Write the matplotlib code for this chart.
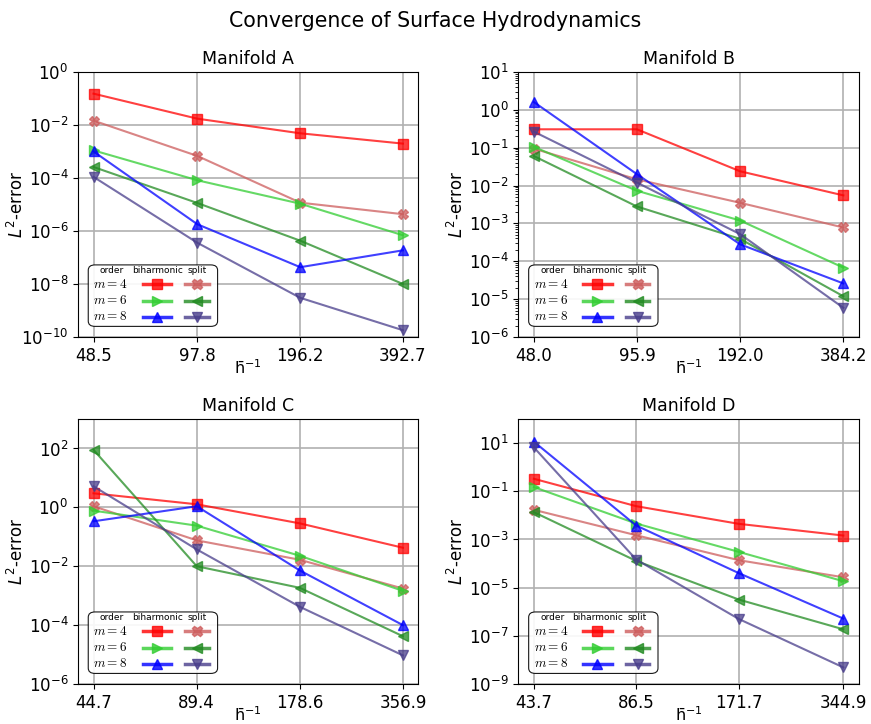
import numpy as np
import matplotlib
matplotlib.use('Agg')
import matplotlib.pyplot as plt
from matplotlib.lines import Line2D
from matplotlib.patches import FancyBboxPatch

# mesh sizes (x) per manifold
h_A = [48.5, 97.8, 196.2, 392.7]
h_B = [48.0, 95.9, 192.0, 384.2]
h_C = [44.7, 89.4, 178.6, 356.9]
h_D = [43.7, 86.5, 171.7, 344.9]

# L2 errors, manifold A
A_bi4 = [0.152, 0.0173, 4.85e-3, 1.98e-3]
A_sp4 = [0.0146, 6.8e-4, 1.17e-5, 4.3e-6]
A_bi6 = [1.1e-3, 8.2e-5, 1.07e-5, 6.9e-7]
A_sp6 = [2.6e-4, 1.14e-5, 4.3e-7, 1.0e-8]
A_bi8 = [1.0e-3, 1.8e-6, 4.3e-8, 1.86e-7]
A_sp8 = [1.1e-4, 3.6e-7, 3.0e-9, 1.8e-10]

# manifold B
B_bi4 = [0.306, 0.306, 0.0238, 5.5e-3]
B_sp4 = [0.094, 0.0146, 3.5e-3, 7.8e-4]
B_bi6 = [0.105, 7.3e-3, 1.19e-3, 6.8e-5]
B_sp6 = [0.060, 2.8e-3, 3.9e-4, 1.19e-5]
B_bi8 = [1.6, 0.020, 2.8e-4, 2.6e-5]
B_sp8 = [0.265, 0.012, 5.2e-4, 5.9e-6]

# manifold C
C_bi4 = [3.0, 1.27, 0.286, 0.0425]
C_sp4 = [1.09, 0.0757, 0.0166, 1.75e-3]
C_bi6 = [0.774, 0.239, 0.0227, 1.46e-3]
C_sp6 = [90.0, 0.01, 1.85e-3, 4.2e-5]
C_bi8 = [0.336, 1.09, 7.2e-3, 1.0e-4]
C_sp8 = [5.2, 0.0373, 4.2e-4, 9.4e-6]

# manifold D
D_bi4 = [0.33, 0.0241, 4.45e-3, 1.46e-3]
D_sp4 = [0.017, 1.5e-3, 1.38e-4, 2.7e-5]
D_bi6 = [0.149, 4.6e-3, 3.05e-4, 1.85e-5]
D_sp6 = [0.0136, 1.29e-4, 3.2e-6, 1.87e-7]
D_bi8 = [11.4, 3.8e-3, 4.0e-5, 5.2e-7]
D_sp8 = [6.6, 1.47e-4, 5.0e-7, 4.9e-9]

titles = ['Manifold A', 'Manifold B', 'Manifold C', 'Manifold D']
ylims = [(1e-10, 1e0), (1e-6, 1e1), (1e-6, 1e3), (1e-9, 1e2)]
yticks = [[1e-10, 1e-8, 1e-6, 1e-4, 1e-2, 1e0],
          [1e-6, 1e-5, 1e-4, 1e-3, 1e-2, 1e-1, 1e0, 1e1],
          [1e-6, 1e-4, 1e-2, 1e0, 1e2],
          [1e-9, 1e-7, 1e-5, 1e-3, 1e-1, 1e1]]

# style per series: (color, marker)
styles = {
    'bi4': ('#ff0000', 's'), 'sp4': ('#cd5c5c', 'X'),
    'bi6': ('#32cd32', '>'), 'sp6': ('#228b22', '<'),
    'bi8': ('#0000ff', '^'), 'sp8': ('#483d8b', 'v'),
}
order = ['bi4', 'sp4', 'bi6', 'sp6', 'bi8', 'sp8']

panels = [
    (h_A, dict(bi4=A_bi4, sp4=A_sp4, bi6=A_bi6, sp6=A_sp6, bi8=A_bi8, sp8=A_sp8)),
    (h_B, dict(bi4=B_bi4, sp4=B_sp4, bi6=B_bi6, sp6=B_sp6, bi8=B_bi8, sp8=B_sp8)),
    (h_C, dict(bi4=C_bi4, sp4=C_sp4, bi6=C_bi6, sp6=C_sp6, bi8=C_bi8, sp8=C_sp8)),
    (h_D, dict(bi4=D_bi4, sp4=D_sp4, bi6=D_bi6, sp6=D_sp6, bi8=D_bi8, sp8=D_sp8)),
]


def table_legend(ax):
    # hand-made legend: order | biharmonic | split
    box = FancyBboxPatch((0.03, 0.04), 0.38, 0.232, boxstyle='round,pad=0,rounding_size=0.02',
                         transform=ax.transAxes, facecolor='white', edgecolor='black',
                         linewidth=0.8, alpha=0.9, zorder=10)
    ax.add_patch(box)
    hy = 0.25
    ax.text(0.099, hy, 'order', transform=ax.transAxes, fontsize=6.5, ha='center', va='center', zorder=11)
    ax.text(0.233, hy, 'biharmonic', transform=ax.transAxes, fontsize=6.5, ha='center', va='center', zorder=11)
    ax.text(0.35, hy, 'split', transform=ax.transAxes, fontsize=6.5, ha='center', va='center', zorder=11)
    rows = [('4', 0.199), ('6', 0.137), ('8', 0.077)]
    for m, y in rows:
        ax.text(0.096, y, '$m = %s$' % m, transform=ax.transAxes, fontsize=9.5, ha='center', va='center',
                math_fontfamily='cm', zorder=11)
        for key, x0, x1 in [('bi' + m, 0.19, 0.274), ('sp' + m, 0.315, 0.385)]:
            c, mk = styles[key]
            ax.add_line(Line2D([x0, x1], [y, y], transform=ax.transAxes, color=c,
                               linewidth=2.5, alpha=0.8, zorder=11))
            # marker sits in the middle of the handle
            ax.add_line(Line2D([(x0 + x1) / 2], [y], transform=ax.transAxes, color=c, marker=mk,
                               linestyle='none', markersize=7.5, alpha=0.8, zorder=12))


fig, axes = plt.subplots(2, 2, figsize=(8.71, 7.24), dpi=100)
fig.subplots_adjust(left=0.0896, right=0.986, top=0.9006, bottom=0.0552, wspace=0.294, hspace=0.3095)

for ax, (h, errs), title, yl, yt in zip(axes.flat, panels, titles, ylims, yticks):
    for key in order:
        c, mk = styles[key]
        ax.plot(h, errs[key], color=c, marker=mk, markersize=7, linewidth=1.5, alpha=0.75)
    ax.set_xscale('log')
    ax.set_yscale('log')
    ax.set_xticks(h)
    ax.set_xticklabels(['%.1f' % v for v in h])
    ax.xaxis.set_minor_locator(matplotlib.ticker.NullLocator())
    ax.set_ylim(yl)
    ax.set_yticks(yt)
    ax.tick_params(labelsize=12)
    ax.grid(True, which='major', linewidth=1.2)
    ax.set_title(title, fontsize=12.5)
    ax.set_ylabel('$L^2$-error', fontsize=12)
    ax.yaxis.set_label_coords(-0.15, 0.5)
    ax.set_xlabel('h\u0304$^{\\mathrm{-1}}$', fontsize=11.5)
    ax.xaxis.set_label_coords(0.5, -0.082)
    table_legend(ax)

fig.suptitle('Convergence of Surface Hydrodynamics', fontsize=14.8, y=0.985)
fig.savefig('out.png', dpi=100)
